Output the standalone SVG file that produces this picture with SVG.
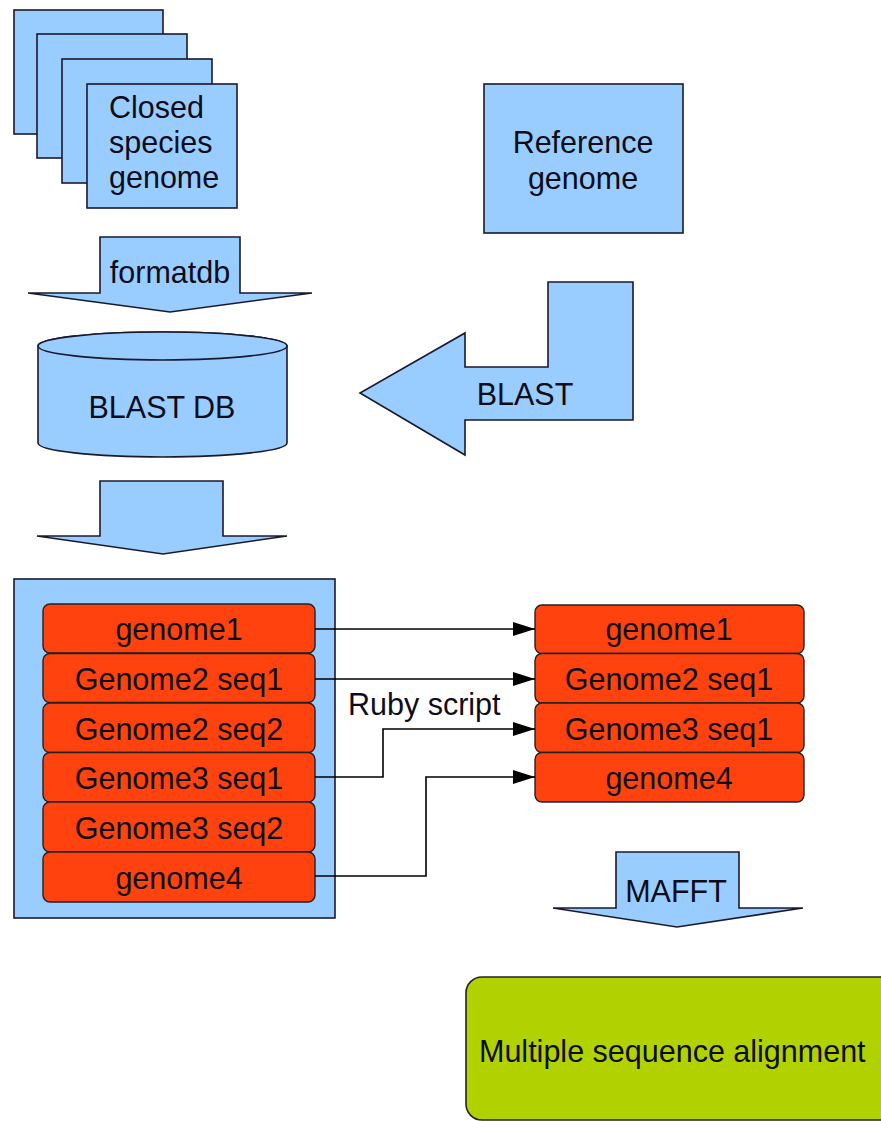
<svg xmlns="http://www.w3.org/2000/svg" width="881" height="1121" viewBox="0 0 881 1121">
<style>
.blue{fill:#99ccff;stroke:#1a1a2e;stroke-width:1.6}
.red{fill:#ff420e;stroke:#222;stroke-width:1.4}
.green{fill:#b2d200;stroke:#222;stroke-width:1.6}
.t{font-family:"Liberation Sans",Arial,sans-serif;font-size:30.5px;fill:#0d0d1a}
.c{text-anchor:middle}
.conn{fill:none;stroke:#000;stroke-width:1.6}
</style>
<defs>
<marker id="ah" viewBox="0 0 22 14" refX="22" refY="7" markerWidth="22" markerHeight="14" markerUnits="userSpaceOnUse" orient="auto">
<path d="M0,0 L22,7 L0,14 Z" fill="#000"/>
</marker>
</defs>
<rect width="881" height="1121" fill="#ffffff"/>

<g id="closed-species">
<rect class="blue" x="14" y="10" width="149" height="124"/>
<rect class="blue" x="37" y="34" width="150" height="124"/>
<rect class="blue" x="62" y="59" width="150" height="124"/>
<rect class="blue" x="87" y="84" width="150" height="124"/>
<text class="t" x="109" y="118">Closed</text>
<text class="t" x="109" y="153">species</text>
<text class="t" x="109" y="188">genome</text>
</g>

<g id="reference-genome">
<rect class="blue" x="484" y="84" width="199" height="149"/>
<text class="t c" x="583" y="153">Reference</text>
<text class="t c" x="583" y="189">genome</text>
</g>

<g id="formatdb">
<polygon class="blue" points="100,237 240,237 240,293 312,293 170,312 28,293 100,293"/>
<text class="t c" x="170" y="283">formatdb</text>
</g>

<g id="blast-db">
<path class="blue" d="M38,346 L38,443 A124.5,14 0 0 0 287,443 L287,346 A124.5,14 0 0 0 38,346 Z"/>
<ellipse class="blue" cx="162.5" cy="346" rx="124.5" ry="14"/>
<text class="t c" x="162" y="418">BLAST DB</text>
</g>

<g id="blast">
<polygon class="blue" points="633,282 633,420 465,420 465,455 360,393 465,333 465,367 548,367 548,282"/>
<text class="t c" x="525" y="405">BLAST</text>
</g>

<g id="down-arrow">
<polygon class="blue" points="100,481 223,481 223,536 287,536 163,554 37,536 100,536"/>
</g>

<g id="container">
<rect class="blue" x="14" y="579" width="321" height="339"/>
</g>

<g id="left-list">
<rect class="red" x="43" y="604" width="272" height="49" rx="7"/>
<text class="t c" x="179" y="640">genome1</text>
<rect class="red" x="43" y="653.5" width="272" height="49" rx="7"/>
<text class="t c" x="179" y="689.5">Genome2 seq1</text>
<rect class="red" x="43" y="703" width="272" height="49.5" rx="7"/>
<text class="t c" x="179" y="739.5">Genome2 seq2</text>
<rect class="red" x="43" y="752.5" width="272" height="49.5" rx="7"/>
<text class="t c" x="179" y="789">Genome3 seq1</text>
<rect class="red" x="43" y="802" width="272" height="50" rx="7"/>
<text class="t c" x="179" y="838.5">Genome3 seq2</text>
<rect class="red" x="43" y="852" width="272" height="50" rx="7"/>
<text class="t c" x="179" y="888.5">genome4</text>
</g>

<g id="right-list">
<rect class="red" x="535" y="605" width="269" height="48.5" rx="7"/>
<text class="t c" x="669" y="640">genome1</text>
<rect class="red" x="535" y="653.5" width="269" height="49.5" rx="7"/>
<text class="t c" x="669" y="689.5">Genome2 seq1</text>
<rect class="red" x="535" y="703" width="269" height="49.5" rx="7"/>
<text class="t c" x="669" y="739.5">Genome3 seq1</text>
<rect class="red" x="535" y="752.5" width="269" height="49.5" rx="7"/>
<text class="t c" x="669" y="789">genome4</text>
</g>

<g id="connectors">
<path class="conn" d="M315,629 L535,629" marker-end="url(#ah)"/>
<path class="conn" d="M315,679 L535,679" marker-end="url(#ah)"/>
<path class="conn" d="M315,777 L383,777 L383,729 L535,729" marker-end="url(#ah)"/>
<path class="conn" d="M315,876 L426,876 L426,777 L535,777" marker-end="url(#ah)"/>
</g>

<g id="ruby-script-label">
<text class="t" x="348" y="715">Ruby script</text>
</g>

<g id="mafft">
<polygon class="blue" points="616,852 739,852 739,908 803,908 677,927 553,908 616,908"/>
<text class="t c" x="676" y="902">MAFFT</text>
</g>

<g id="msa">
<rect class="green" x="466" y="977" width="430" height="143" rx="16"/>
<text class="t" x="479" y="1062">Multiple sequence alignment</text>
</g>
</svg>
